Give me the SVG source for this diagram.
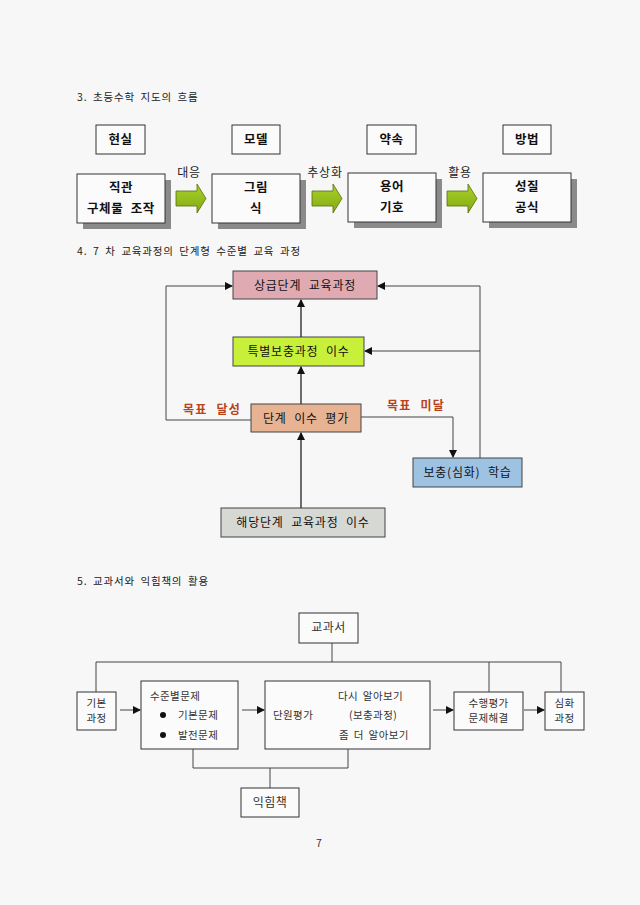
<svg xmlns="http://www.w3.org/2000/svg" width="640" height="905" viewBox="0 0 640 905">
<defs>
<style>
text{font-family:"Noto Sans CJK KR","Liberation Sans",sans-serif;fill:#111}
.h{font-size:10.5px;fill:#222;letter-spacing:0.8px;word-spacing:2.5px}
.b3{font-size:12.5px;font-weight:bold;text-anchor:middle;letter-spacing:0.6px;word-spacing:4px}
.b4{font-size:12px;text-anchor:middle;letter-spacing:0.8px;word-spacing:4px}
.lab{font-size:12px;fill:#222;text-anchor:middle;letter-spacing:0.8px}
.red{font-size:12px;font-weight:bold;fill:#b8421c;text-anchor:middle;letter-spacing:1.2px;word-spacing:5px}
.s5{font-size:10.5px;fill:#333;letter-spacing:0.4px;word-spacing:2px}
.c{text-anchor:middle}
.box{fill:#fbfbfb;stroke:#333;stroke-width:1}
.sh{fill:#8a8a8a}
.ln{fill:none;stroke:#222;stroke-width:1.3}
.ln5{fill:none;stroke:#444;stroke-width:1}
.garr{fill:url(#g);stroke:#55700a;stroke-width:0.8}
</style>
<linearGradient id="g" x1="0" y1="0" x2="0" y2="1">
<stop offset="0" stop-color="#a8d12a"/>
<stop offset="1" stop-color="#84aa12"/>
</linearGradient>
<marker id="a" markerWidth="8" markerHeight="8" refX="7" refY="4" orient="auto" markerUnits="userSpaceOnUse">
<path d="M0,0 L8,4 L0,8 z" fill="#111"/>
</marker>
</defs>
<rect width="640" height="905" fill="#f7f7f7"/>

<!-- Section 3 -->
<text class="h" x="77" y="101">3. 초등수학 지도의 흐름</text>
<g id="n-hyunsil"><rect class="box" x="96" y="125" width="49" height="29"/><text class="b3" x="120.5" y="144">현실</text></g>
<g id="n-model"><rect class="box" x="232" y="125" width="48" height="29"/><text class="b3" x="256" y="144">모델</text></g>
<g id="n-yaksok"><rect class="box" x="367" y="125" width="49" height="29"/><text class="b3" x="391.5" y="144">약속</text></g>
<g id="n-bangbeop"><rect class="box" x="503" y="125" width="48" height="29"/><text class="b3" x="527" y="144">방법</text></g>

<g id="n-jikgwan"><rect class="sh" x="83" y="180" width="88" height="49"/><rect class="box" x="77" y="174" width="88" height="49"/><text class="b3" x="121" y="192">직관</text><text class="b3" x="121" y="213">구체물 조작</text></g>
<g id="n-geurim"><rect class="sh" x="218" y="180" width="88" height="49"/><rect class="box" x="212" y="174" width="88" height="49"/><text class="b3" x="256" y="192">그림</text><text class="b3" x="256" y="213">식</text></g>
<g id="n-yongeo"><rect class="sh" x="354" y="179" width="88" height="49"/><rect class="box" x="348" y="173" width="88" height="49"/><text class="b3" x="392" y="191">용어</text><text class="b3" x="392" y="212">기호</text></g>
<g id="n-seongjil"><rect class="sh" x="489" y="179" width="88" height="49"/><rect class="box" x="483" y="173" width="88" height="49"/><text class="b3" x="527" y="191">성질</text><text class="b3" x="527" y="212">공식</text></g>

<g id="c3">
<path class="garr" d="M176,191 H197 V184 L206,198.5 L197,213 V206 H176 z"/>
<path class="garr" d="M312,191 H333 V184 L342,198.5 L333,213 V206 H312 z"/>
<path class="garr" d="M447,191 H468 V184 L477,198.5 L468,213 V206 H447 z"/>
<text class="lab" x="189" y="177">대응</text>
<text class="lab" x="325" y="177">추상화</text>
<text class="lab" x="460" y="177">활용</text>
</g>

<!-- Section 4 -->
<text class="h" x="77" y="255">4. 7 차 교육과정의 단계형 수준별 교육 과정</text>
<g id="n-sanggeup"><rect x="233" y="271" width="144" height="28" fill="#dfaab2" stroke="#444"/><text class="b4" x="305" y="290">상급단계 교육과정</text></g>
<g id="n-teukbyeol"><rect x="233" y="337" width="131" height="29" fill="#c8ef3a" stroke="#444"/><text class="b4" x="298.5" y="356">특별보충과정 이수</text></g>
<g id="n-pyeongga"><rect x="251" y="404" width="110" height="28" fill="#e8b393" stroke="#444"/><text class="b4" x="306" y="423">단계 이수 평가</text></g>
<g id="n-bochung"><rect x="413" y="458" width="109" height="29" fill="#9ec2e2" stroke="#444"/><text class="b4" x="467.5" y="477">보충(심화) 학습</text></g>
<g id="n-haedang"><rect x="221" y="508" width="164" height="29" fill="#d6d8d4" stroke="#444"/><text class="b4" x="303" y="527">해당단계 교육과정 이수</text></g>

<g id="c4">
<path class="ln" d="M301,508 V433" marker-end="url(#a)"/>
<path class="ln" d="M301,404 V367" marker-end="url(#a)"/>
<path class="ln" d="M301,337 V300" marker-end="url(#a)"/>
<path class="ln5" d="M251,420 H166 V286 H232" marker-end="url(#a)"/>
<path class="ln5" d="M361,417 H453 V457" marker-end="url(#a)"/>
<path class="ln5" d="M480,458 V286 H378" marker-end="url(#a)"/>
<path class="ln5" d="M480,351 H365" marker-end="url(#a)"/>
<text class="red" x="212" y="414">목표 달성</text>
<text class="red" x="416" y="410">목표 미달</text>
</g>

<!-- Section 5 -->
<text class="h" x="77" y="585">5. 교과서와 익힘책의 활용</text>
<g id="n-gyogwaseo"><rect class="box" x="299" y="613" width="59" height="30"/><text class="s5 c" x="328.5" y="632" style="font-size:12px">교과서</text></g>
<g id="n-gibon"><rect class="box" x="77" y="692" width="39" height="38"/><text class="s5 c" x="96.5" y="707">기본</text><text class="s5 c" x="96.5" y="722">과정</text></g>
<g id="n-sujun"><rect class="box" x="141" y="681" width="97" height="68"/><text class="s5" x="150" y="700">수준별문제</text><circle cx="163" cy="715" r="3" fill="#111"/><text class="s5" x="178" y="719">기본문제</text><circle cx="163" cy="735" r="3" fill="#111"/><text class="s5" x="178" y="739">발전문제</text></g>
<g id="n-danwon"><rect class="box" x="265" y="681" width="165" height="68"/><text class="s5" x="273" y="719">단원평가</text><text class="s5" x="338" y="700">다시 알아보기</text><text class="s5" x="349" y="719">(보충과정)</text><text class="s5" x="339" y="739">좀 더 알아보기</text></g>
<g id="n-suhaeng"><rect class="box" x="454" y="692" width="69" height="38"/><text class="s5 c" x="488.5" y="707">수행평가</text><text class="s5 c" x="488.5" y="722">문제해결</text></g>
<g id="n-simhwa"><rect class="box" x="545" y="692" width="39" height="38"/><text class="s5 c" x="564.5" y="707">심화</text><text class="s5 c" x="564.5" y="722">과정</text></g>
<g id="n-ikhim"><rect class="box" x="241" y="788" width="58" height="29"/><text class="s5 c" x="270" y="807" style="font-size:12px">익힘책</text></g>

<g id="c5">
<path class="ln5" d="M332,643 V662"/>
<path class="ln5" d="M96,692 V662 H561 V692"/>
<path class="ln5" d="M489,662 V692"/>
<path class="ln5" d="M120,710 H140" marker-end="url(#a)"/>
<path class="ln5" d="M242,710 H264" marker-end="url(#a)"/>
<path class="ln5" d="M433,710 H453" marker-end="url(#a)"/>
<path class="ln5" d="M524,710 H544" marker-end="url(#a)"/>
<path class="ln5" d="M193,749 V768 H348 V749"/>
<path class="ln5" d="M270,768 V788"/>
</g>

<text class="s5 c" x="319" y="847">7</text>
</svg>
